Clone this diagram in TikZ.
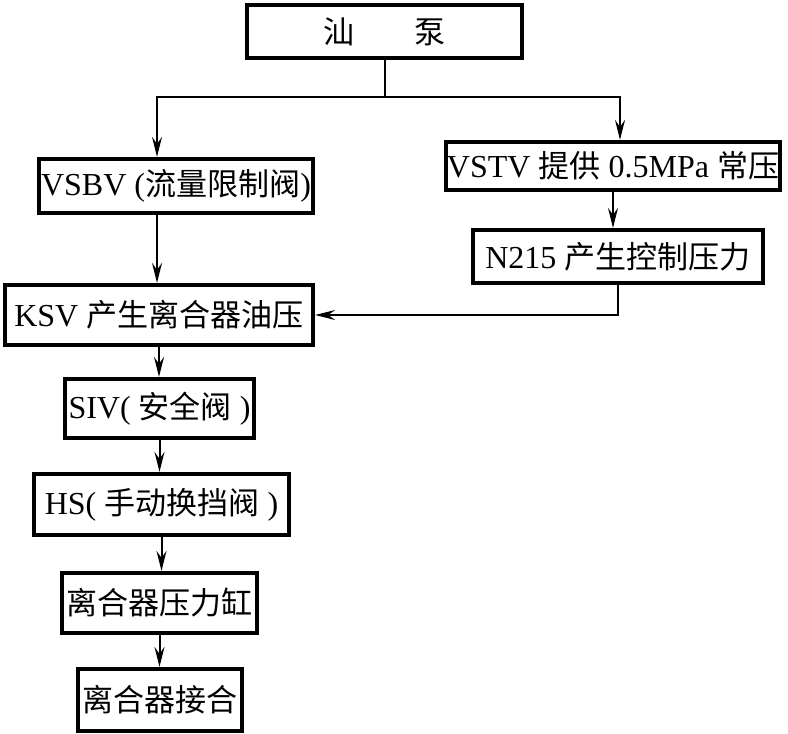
\documentclass[tikz,border=0pt]{standalone}
\usepackage{fontspec}
\setmainfont{Liberation Serif}
\newfontfamily\cjk[Scale=0.97]{Noto Sans CJK SC}
\usetikzlibrary{arrows.meta,positioning}

\begin{document}
\begin{tikzpicture}[
  x=1pt, y=-1pt,
  blk/.style={draw=black, line width=4.2pt, inner sep=0pt, align=center,
              font=\fontsize{32}{36}\selectfont},
  fl/.style={-{Stealth[length=20pt, width=10pt, inset=7pt]}, line width=2pt},
  ln/.style={line width=2pt},
]
\fill[white] (0,0) rectangle (788,734);
\useasboundingbox (0,0) rectangle (788,734);

% ============ pump ==========================================================
\node[blk, minimum width=275pt, minimum height=53pt] (pump) at (384.5,31.5)
  {{\cjk 汕}\hspace{1.9em}{\cjk 泵}};

% ============ left column ===================================================
\node[blk, minimum width=274pt, minimum height=54pt] (vsbv) at (176,186)
  {VSBV ({\cjk 流量限制阀})};
\node[blk, minimum width=308pt, minimum height=60pt] (ksv)  at (159,315)
  {KSV {\cjk 产生离合器油压}};
\node[blk, minimum width=189pt, minimum height=59pt] (siv)  at (159.5,408.5)
  {SIV( {\cjk 安全阀} )};
\node[blk, minimum width=255pt, minimum height=61pt] (hs)   at (161.5,504.5)
  {HS( {\cjk 手动换挡阀} )};
\node[blk, minimum width=195pt, minimum height=60pt] (cyl)  at (159.5,603)
  {{\cjk 离合器压力缸}};
\node[blk, minimum width=164pt, minimum height=62pt] (eng)  at (160,700)
  {{\cjk 离合器接合}};

% ============ right column ==================================================
\node[blk, minimum width=334pt, minimum height=48pt] (vstv) at (613,166)
  {VSTV {\cjk 提供} 0.5MPa {\cjk 常压}};
\node[blk, minimum width=290pt, minimum height=53pt] (n215) at (618,256.5)
  {N215 {\cjk 产生控制压力}};

% ============ flows =========================================================
\draw[ln] (pump.south) -- ++(0,37) coordinate (split);
\draw[fl] (split) -| ([xshift=-19pt]vsbv.north);
\draw[fl] (split) -| ([xshift=7pt]vstv.north);

\draw[fl] ([xshift=-19pt]vsbv.south) -- ([xshift=-19pt]vsbv.south |- ksv.north);
\draw[fl] (vstv.south) -- (vstv.south |- n215.north);
\draw[fl] (n215.south) |- (ksv.east);

\draw[fl] (ksv.south) -- (ksv.south |- siv.north);
\draw[fl] (siv.south) -- (siv.south |- hs.north);
\draw[fl] (hs.south)  -- (hs.south |- cyl.north);
\draw[fl] (cyl.south) -- (cyl.south |- eng.north);

\end{tikzpicture}
\end{document}
